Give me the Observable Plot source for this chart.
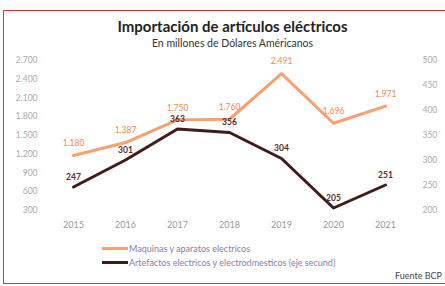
<!DOCTYPE html>
<html>
<head>
<meta charset="utf-8">
<script src="https://cdn.jsdelivr.net/npm/d3@7"></script>
<script src="https://cdn.jsdelivr.net/npm/@observablehq/plot@0.6"></script>
<style>
  html, body { margin: 0; padding: 0; background: #fff; }
  #wrap { position: relative; width: 445px; height: 286px; overflow: hidden; font-family: Lato, "Open Sans", sans-serif; }
  #border { position: absolute; left: 3px; top: 10px; width: 450px; height: 274px; border: 1.5px solid #d9323a; box-sizing: border-box; }
  #title { position: absolute; left: 0; width: 465px; top: 17px; text-align: center; font-weight: bold; font-size: 15px; color: #222; }
  #subtitle { position: absolute; left: 0; width: 465px; top: 37px; text-align: center; font-size: 10.5px; color: #333; }
  #chart { position: absolute; left: 0; top: 0; }
  .leg { position: absolute; left: 102px; font-size: 9px; color: #8a80a0; display: flex; align-items: center; white-space: nowrap; }
  .sw { display: inline-block; width: 26px; height: 3px; margin-right: 1px; }
  #src { position: absolute; right: 3px; top: 270px; font-size: 9px; color: #444; }
</style>
</head>
<body>
<div id="wrap">
  <div id="border"></div>
  <div id="chart"></div>
  <div id="title">Importación de artículos eléctricos</div>
  <div id="subtitle">En millones de Dólares Américanos</div>
  <div class="leg" style="top:243px"><span class="sw" style="background:#f7a072"></span>Maquinas y aparatos electricos</div>
  <div class="leg" style="top:257px"><span class="sw" style="background:#3d1c1a"></span>Artefactos electricos y electrodmesticos (eje secund)</div>
  <div id="src">Fuente BCP</div>
</div>
<script>
const years = [2015, 2016, 2017, 2018, 2019, 2020, 2021];
const maquinas = [1180, 1387, 1750, 1760, 2491, 1696, 1971];
const artefactos = [247, 301, 363, 356, 304, 205, 251];
const leftTicks = [300, 600, 900, 1200, 1500, 1800, 2100, 2400, 2700];
const rightTicks = [200, 250, 300, 350, 400, 450, 500];

const orange = "#f7a072";
const orangeText = "#f08a50";
const dark = "#3d1c1a";

const loc = d3.formatLocale({decimal: ",", thousands: ".", grouping: [3], currency: ["", ""]});
const fmt = loc.format(",d");

// right axis [200,500] mapped onto left axis [300,2700]
const toLeft = v => 300 + (v - 200) * 8;
const fromLeft = v => 200 + (v - 300) / 8;

const dataM = years.map((y, i) => ({year: y, v: maquinas[i]}));
const dataA = years.map((y, i) => ({year: y, v: toLeft(artefactos[i]), raw: artefactos[i]}));

const chart = Plot.plot({
  width: 445,
  height: 240,
  marginTop: 60,
  marginBottom: 30,
  marginLeft: 73,
  marginRight: 60,
  style: {fontFamily: "Lato, 'Open Sans', sans-serif", background: "transparent"},
  x: {type: "point", domain: years, padding: 0},
  y: {domain: [300, 2700]},
  marks: [
    Plot.axisX({tickSize: 0, tickPadding: 11, fontSize: 9, color: "#999", label: null, tickFormat: d => String(d)}),
    Plot.axisY({ticks: leftTicks, tickSize: 0, tickPadding: 36, fontSize: 8.5, color: "#aaa", tickFormat: fmt, label: null}),
    Plot.axisY({anchor: "right", ticks: rightTicks.map(toLeft), tickSize: 0, tickPadding: 37, fontSize: 8.5, color: "#aaa", tickFormat: d => fmt(fromLeft(d)), label: null}),
    Plot.line(dataM, {x: "year", y: "v", stroke: orange, strokeWidth: 3}),
    Plot.line(dataA, {x: "year", y: "v", stroke: dark, strokeWidth: 3}),
    Plot.text(dataM, {x: "year", y: "v", text: d => fmt(d.v), dy: -12, fill: orangeText, fontSize: 8.5}),
    Plot.text(dataA, {x: "year", y: "v", text: d => fmt(d.raw), dy: -10, fill: "#5a2a2a", fontSize: 8.5, fontWeight: "bold"})
  ]
});
document.getElementById("chart").appendChild(chart);
</script>
</body>
</html>
